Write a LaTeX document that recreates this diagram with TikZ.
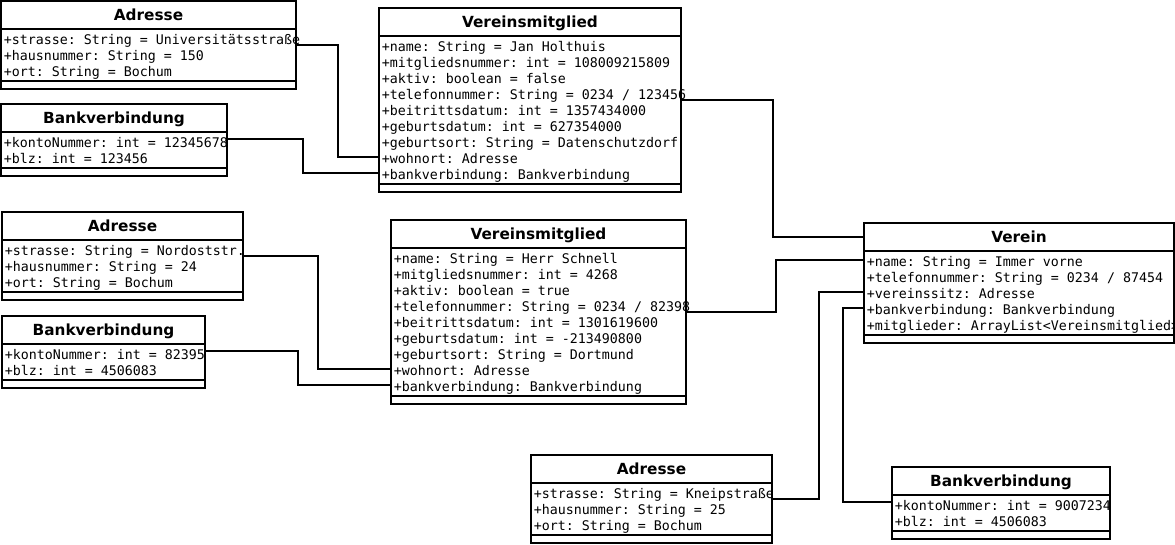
\documentclass[tikz,border=0pt]{standalone}
\usepackage{fontspec}
\setmainfont{DejaVu Sans}
\setmonofont{DejaVu Sans Mono}
\usetikzlibrary{calc}

\begin{document}
\begin{tikzpicture}[
  x=1pt, y=-1pt,
  line width=1.6pt,
  cls/.style  ={draw,inner sep=0pt,outer sep=0pt,anchor=north west},
  ttl/.style  ={font=\bfseries\fontsize{15.3}{18}\selectfont,inner sep=0pt,
                text height=11pt,text depth=0pt},
  attr/.style ={font=\ttfamily\fontsize{13.3}{16}\selectfont,inner sep=0pt,
                anchor=south west,text height=12pt,text depth=0pt}]

\useasboundingbox[fill=white] (0,0) rectangle (1175,544);

% ---------- Jan Holthuis ----------
\node[cls,minimum width=295pt,minimum height=88pt]  (ad1) at (1,1) {};
\node[cls,minimum width=226pt,minimum height=72pt]  (bk1) at (1,104) {};
\node[cls,minimum width=302pt,minimum height=184pt] (vm1) at (379,8) {};
\foreach \a [count=\i] in {{+strasse: String = Universitätsstraße},
    {+hausnummer: String = 150},{+ort: String = Bochum}}
  \node[attr] (ad1-\i) at ($(ad1.north west)+(2,28+16*\i)$) {\a};
\foreach \a [count=\i] in {{+kontoNummer: int = 12345678},{+blz: int = 123456}}
  \node[attr] (bk1-\i) at ($(bk1.north west)+(2,28+16*\i)$) {\a};
\foreach \a [count=\i] in {{+name: String = Jan Holthuis},
    {+mitgliedsnummer: int = 108009215809},{+aktiv: boolean = false},
    {+telefonnummer: String = 0234 / 123456},{+beitrittsdatum: int = 1357434000},
    {+geburtsdatum: int = 627354000},{+geburtsort: String = Datenschutzdorf},
    {+wohnort: Adresse},{+bankverbindung: Bankverbindung}}
  \node[attr] (vm1-\i) at ($(vm1.north west)+(2,28+16*\i)$) {\a};

% ---------- Herr Schnell ----------
\node[cls,minimum width=241pt,minimum height=88pt]  (ad2) at (2,212) {};
\node[cls,minimum width=203pt,minimum height=72pt]  (bk2) at (2,316) {};
\node[cls,minimum width=295pt,minimum height=184pt] (vm2) at (391,220) {};
\foreach \a [count=\i] in {{+strasse: String = Nordoststr.},
    {+hausnummer: String = 24},{+ort: String = Bochum}}
  \node[attr] (ad2-\i) at ($(ad2.north west)+(2,28+16*\i)$) {\a};
\foreach \a [count=\i] in {{+kontoNummer: int = 82395},{+blz: int = 4506083}}
  \node[attr] (bk2-\i) at ($(bk2.north west)+(2,28+16*\i)$) {\a};
\foreach \a [count=\i] in {{+name: String = Herr Schnell},
    {+mitgliedsnummer: int = 4268},{+aktiv: boolean = true},
    {+telefonnummer: String = 0234 / 82398},{+beitrittsdatum: int = 1301619600},
    {+geburtsdatum: int = -213490800},{+geburtsort: String = Dortmund},
    {+wohnort: Adresse},{+bankverbindung: Bankverbindung}}
  \node[attr] (vm2-\i) at ($(vm2.north west)+(2,28+16*\i)$) {\a};

% ---------- Verein ----------
\node[cls,minimum width=310pt,minimum height=120pt] (vr)  at (864,223) {};
\node[cls,minimum width=241pt,minimum height=88pt]  (ad3) at (531,455) {};
\node[cls,minimum width=218pt,minimum height=72pt]  (bk3) at (892,467) {};
\foreach \a [count=\i] in {{+name: String = Immer vorne},
    {+telefonnummer: String = 0234 / 87454},{+vereinssitz: Adresse},
    {+bankverbindung: Bankverbindung},{+mitglieder: ArrayList<Vereinsmitglied>}}
  \node[attr] (vr-\i) at ($(vr.north west)+(2,28+16*\i)$) {\a};
\foreach \a [count=\i] in {{+strasse: String = Kneipstraße},
    {+hausnummer: String = 25},{+ort: String = Bochum}}
  \node[attr] (ad3-\i) at ($(ad3.north west)+(2,28+16*\i)$) {\a};
\foreach \a [count=\i] in {{+kontoNummer: int = 9007234},{+blz: int = 4506083}}
  \node[attr] (bk3-\i) at ($(bk3.north west)+(2,28+16*\i)$) {\a};

% titles and compartment rules
\foreach \b/\t in {ad1/Adresse,bk1/Bankverbindung,vm1/Vereinsmitglied,
    ad2/Adresse,bk2/Bankverbindung,vm2/Vereinsmitglied,
    vr/Verein,ad3/Adresse,bk3/Bankverbindung} {
  \node[ttl] (\b-t) at ($(\b.north)+(0,14)$) {\t};
  \draw ($(\b.north west)+(0,28)$) -- ($(\b.north east)+(0,28)$);
  \draw ($(\b.south west)+(0,-8)$) -- ($(\b.south east)+(0,-8)$);
}

% ---------- links ----------
\draw (ad1-1.south -| ad1.east) -- ++(42,0) |- (vm1-8 -| vm1.west);
\draw ($(bk1-1 -| bk1.east)+(0,-2)$) -- ++(76,0) |- (vm1-9 -| vm1.west);
\draw (vm1-4.south -| vm1.east) -- ++(92,0) |- (vr-t -| vr.west);
\draw (ad2-1.south -| ad2.east) -- ++(75,0) |- (vm2-8 -| vm2.west);
\draw ($(bk2-1 -| bk2.east)+(0,-2)$) -- ++(93,0) |- (vm2-9 -| vm2.west);
\draw (vm2-4.south -| vm2.east) -- ++(90,0) |- (vr-1 -| vr.west);
\draw (ad3-1.south -| ad3.east) -- ++(47,0) |- (vr-3 -| vr.west);
\draw ($(bk3-1 -| bk3.west)+(0,-2)$) -- ++(-49,0) |- (vr-4 -| vr.west);

\end{tikzpicture}
\end{document}
